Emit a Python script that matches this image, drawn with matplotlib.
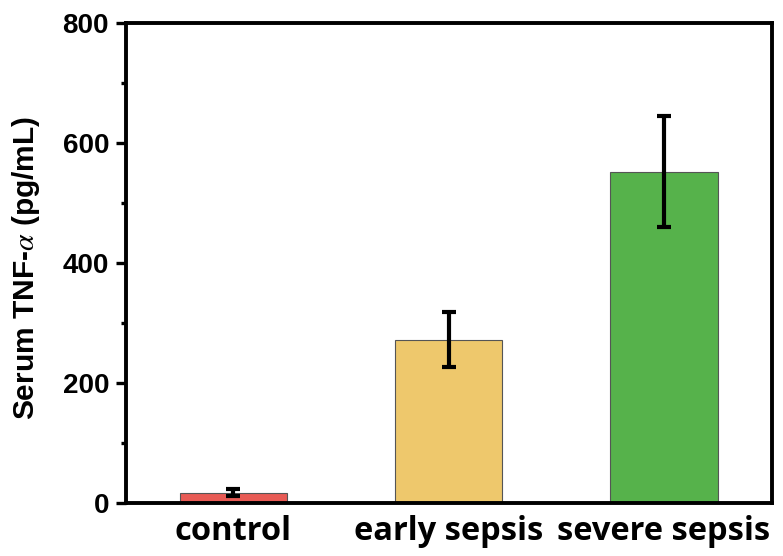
import numpy as np
import matplotlib
matplotlib.use("Agg")
import matplotlib.pyplot as plt
from matplotlib.ticker import MultipleLocator

groups = ["control", "early sepsis", "severe sepsis"]
tnf_mean = [17, 272, 552]
tnf_err = [6, 46, 92]
bar_colors = ["#E85B55", "#EEC86C", "#56B24B"]

plt.rcParams["font.family"] = ["Liberation Sans", "DejaVu Sans"]
plt.rcParams["mathtext.fontset"] = "stix"

fig = plt.figure(figsize=(7.83, 5.56), dpi=100)
ax = fig.add_axes([0.1605, 0.0958, 0.825, 0.8633])

x = np.arange(1, len(groups) + 1)
ax.bar(x, tnf_mean, width=0.5, color=bar_colors, edgecolor="#555555",
       linewidth=0.8, zorder=2)
ax.errorbar(x, tnf_mean, yerr=tnf_err, fmt="none", ecolor="black",
            elinewidth=3, capsize=5, capthick=3, zorder=3)

ax.set_xlim(0.5, 3.5)
ax.set_ylim(0, 800)
ax.yaxis.set_major_locator(MultipleLocator(200))
ax.yaxis.set_minor_locator(MultipleLocator(100))

for sp in ax.spines.values():
    sp.set_linewidth(2.8)

ax.tick_params(axis="y", which="major", direction="out", length=7, width=2.4,
               labelsize=20, pad=5)
ax.tick_params(axis="y", which="minor", direction="out", length=3.5, width=2.4)
ax.tick_params(axis="x", length=0, pad=9)
for lab in ax.get_yticklabels():
    lab.set_fontweight("bold")

ax.set_xticks(x)
ax.set_xticklabels(groups, fontsize=23.5, fontweight="bold",
                   family=["Open Sans", "DejaVu Sans"])

ax.set_ylabel(r"Serum TNF-$\alpha$ (pg/mL)", fontsize=21.5, fontweight="bold")
ax.yaxis.set_label_coords(-0.13, 0.49)

fig.savefig("out.png", dpi=100)
